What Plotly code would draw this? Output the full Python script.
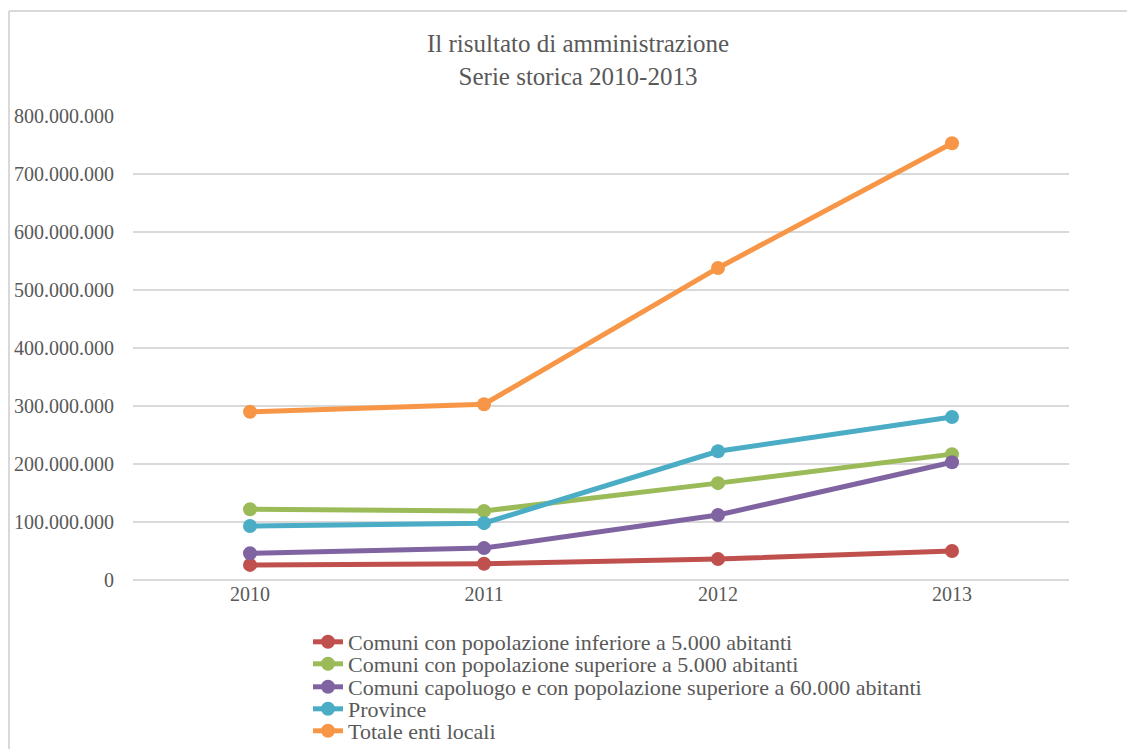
import plotly.graph_objects as go

years = ["2010", "2011", "2012", "2013"]
comuni_inf_5000 = [26_000_000, 28_000_000, 36_000_000, 50_000_000]
comuni_sup_5000 = [122_000_000, 119_000_000, 167_000_000, 217_000_000]
capoluogo_60000 = [46_000_000, 55_000_000, 112_000_000, 203_000_000]
province = [93_000_000, 98_000_000, 222_000_000, 281_000_000]
totale = [290_000_000, 303_000_000, 538_000_000, 753_000_000]

series_names = [
    "Comuni con popolazione inferiore a 5.000 abitanti",
    "Comuni con popolazione superiore a 5.000 abitanti",
    "Comuni capoluogo e con popolazione superiore a 60.000 abitanti",
    "Province",
    "Totale enti locali",
]
series_values = [comuni_inf_5000, comuni_sup_5000, capoluogo_60000, province, totale]
colors = ["#C0504D", "#9BBB59", "#8064A2", "#4BACC6", "#F79646"]

tick_vals = [0, 100_000_000, 200_000_000, 300_000_000, 400_000_000,
             500_000_000, 600_000_000, 700_000_000, 800_000_000]
tick_text = ["0" if v == 0 else f"{v:,}".replace(",", ".") for v in tick_vals]

FONT = "Liberation Serif"
TXT = "#595959"
# page body has an 8px margin, so positions are expressed 8px up/left
W, H = 1135, 749
L, T, PW, PH = 125, 108, 936, 464

fig = go.Figure()
legend_ids = ["legend", "legend2", "legend3", "legend4", "legend5"]
for name, vals, c, lg in zip(series_names, series_values, colors, legend_ids):
    fig.add_trace(go.Scatter(
        x=years, y=vals, name=name, mode="lines+markers",
        line=dict(color=c, width=5),
        marker=dict(color=c, size=14),
        legend=lg,
    ))

legend_centers_px = [634, 656, 679, 701, 723]
legend_layout = {}
for lg, py in zip(legend_ids, legend_centers_px):
    legend_layout[lg] = dict(
        x=300 / W, xref="container", xanchor="left",
        y=1 - py / H, yref="container", yanchor="middle",
        font=dict(family=FONT, size=22, color=TXT),
        bgcolor="rgba(0,0,0,0)", borderwidth=0,
    )

fig.update_layout(
    width=W, height=H,
    paper_bgcolor="white", plot_bgcolor="white",
    margin=dict(l=L, r=W - L - PW, t=T, b=H - T - PH, autoexpand=False),
    font=dict(family=FONT, color=TXT, size=20),
    title=dict(
        text="Il risultato di amministrazione<br>Serie storica 2010-2013",
        x=570 / W, xref="container", xanchor="center",
        y=1 - 44 / H, yref="container", yanchor="top",
        font=dict(family=FONT, size=25, color=TXT),
    ),
    xaxis=dict(
        type="category", range=[-0.5, 3.5], automargin=False,
        showgrid=False, showline=False, zeroline=False,
        ticks="", tickfont=dict(family=FONT, size=20, color=TXT),
    ),
    yaxis=dict(
        range=[0, 800_000_000], tickvals=tick_vals, ticktext=tick_text,
        automargin=False,
        showgrid=True, gridcolor="#D9D9D9", gridwidth=1.5,
        zeroline=True, zerolinecolor="#D9D9D9", zerolinewidth=1.5,
        showline=False, ticks="", ticklabelstandoff=18,
        tickfont=dict(family=FONT, size=20, color=TXT),
    ),
    showlegend=True,
    **legend_layout,
)

frame_x = (1 - L) / PW
frame_y = 1 + (T - 3) / PH
fig.add_shape(type="line", xref="paper", yref="paper",
              x0=frame_x, x1=frame_x, y0=frame_y, y1=-2,
              line=dict(color="#D9D9D9", width=2))
fig.add_shape(type="line", xref="paper", yref="paper",
              x0=frame_x, x1=2, y0=frame_y, y1=frame_y,
              line=dict(color="#D9D9D9", width=2))

fig.write_html("out.html")
